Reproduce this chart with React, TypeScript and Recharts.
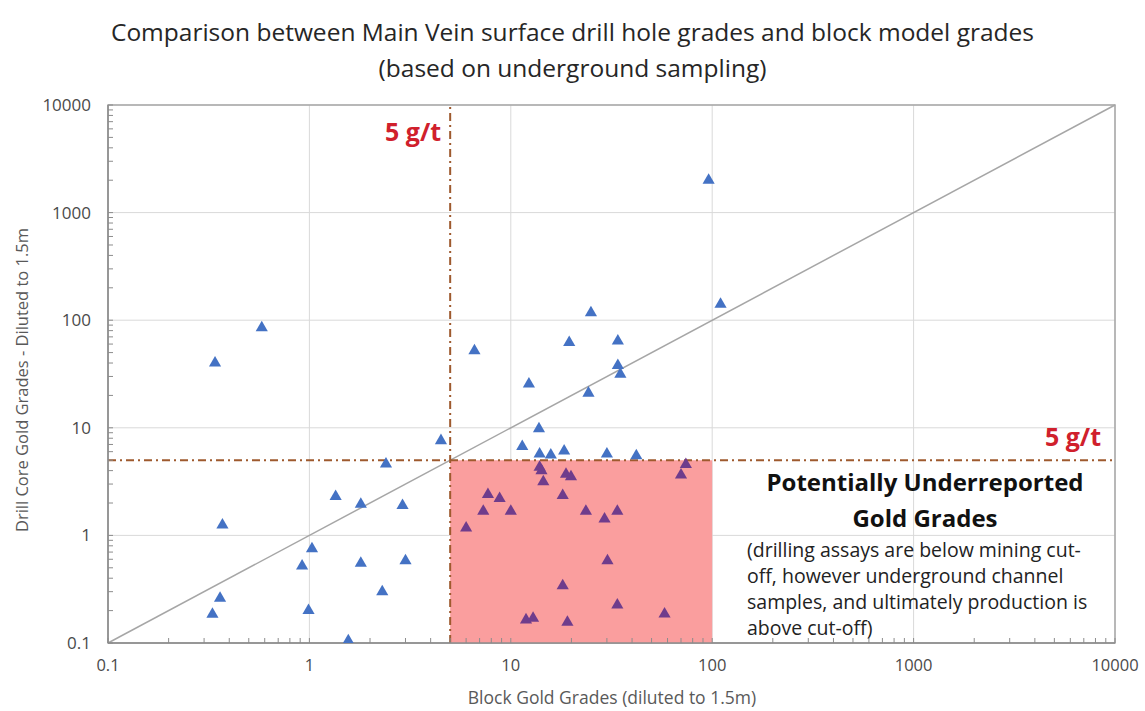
import {
  ScatterChart, Scatter, XAxis, YAxis, CartesianGrid, ReferenceLine, ReferenceArea,
} from 'recharts';

// block model grade (x) vs drill core grade (y), g/t
const BLOCK_BLUE = [0.58, 0.34, 6.6, 4.5, 2.4, 1.35, 1.8, 2.9, 0.37, 1.03, 0.92, 1.8, 3.0, 2.3, 0.36, 0.33, 0.99, 1.56,
  25, 19.5, 34, 34, 35, 12.3, 24.3, 13.8, 11.4, 13.9, 15.8, 18.4, 30, 42, 110, 96];
const CORE_BLUE = [85, 40, 52, 7.6, 4.6, 2.3, 1.95, 1.9, 1.25, 0.75, 0.52, 0.55, 0.58, 0.3, 0.26, 0.185, 0.2, 0.105,
  117, 62, 64, 38, 31.5, 25.5, 21, 9.8, 6.7, 5.7, 5.6, 6.1, 5.7, 5.5, 141, 2000];

// points falling inside the "underreported" box
const BLOCK_BOX = [13.9, 14.2, 14.5, 18.8, 19.9, 74, 70, 7.7, 8.8, 7.3, 10, 18.1, 23.6, 29.2, 33.8, 6.0, 30.2, 18.1,
  33.8, 58, 11.9, 12.9, 19.1];
const CORE_BOX = [4.3, 4.0, 3.15, 3.7, 3.5, 4.55, 3.65, 2.4, 2.2, 1.68, 1.68, 2.35, 1.68, 1.42, 1.68, 1.17, 0.58, 0.34,
  0.225, 0.186, 0.164, 0.17, 0.156];

const DECADES = [0.1, 1, 10, 100, 1000, 10000];
const MINOR_STEPS = [2, 3, 4, 5, 6, 7, 8, 9];
const CUT_OFF = 5;
const BOX_MAX_X = 100;

const ALL_TICKS = [
  ...DECADES,
  ...DECADES.slice(0, -1).flatMap(d => MINOR_STEPS.map(m => d * m)),
].sort((a, b) => a - b);

const FONT = "'Open Sans', 'Liberation Sans', sans-serif";
const BLUE = '#4472C4';
const PURPLE = '#6F3C8C';
const PINK = '#FA9E9E';
const BROWN = '#9E5A2E';
const RED = '#D0202C';
const AXIS_GREY = '#8c8c8c';
const LABEL_GREY = '#595959';

const blueData = BLOCK_BLUE.map((x, i) => ({ x, y: CORE_BLUE[i] }));
const boxData = BLOCK_BOX.map((x, i) => ({ x, y: CORE_BOX[i] }));

const isMajor = (v: number) => DECADES.includes(v);

const XTick = ({ x, y, payload }: any) => (
  <g>
    <line x1={x} y1={y} x2={x} y2={y - 5} stroke={AXIS_GREY} />
    {isMajor(payload.value) && (
      <text x={x} y={y + 28} textAnchor="middle" fill="#4a4a4a" fontSize={16.5} fontFamily={FONT}>
        {String(payload.value)}
      </text>
    )}
  </g>
);

const YTick = ({ x, y, payload }: any) => (
  <g>
    <line x1={x} y1={y} x2={x + 5} y2={y} stroke={AXIS_GREY} />
    {isMajor(payload.value) && (
      <text x={x - 17} y={y + 6} textAnchor="end" fill="#4a4a4a" fontSize={17} fontFamily={FONT}>
        {String(payload.value)}
      </text>
    )}
  </g>
);

const cutLabelV = ({ viewBox }: any) => (
  <text x={viewBox.x - 9} y={viewBox.y + 36} textAnchor="end" fill={RED} fontSize={25} fontWeight={700} fontFamily={FONT}>
    5 g/t
  </text>
);

const cutLabelH = ({ viewBox }: any) => (
  <text x={viewBox.x + viewBox.width - 14} y={viewBox.y - 14} textAnchor="end" fill={RED} fontSize={25} fontWeight={700} fontFamily={FONT}>
    5 g/t
  </text>
);

const App = () => (
  <div style={{ position: 'absolute', left: 0, top: 0, width: 1145, height: 711, background: '#fff', fontFamily: FONT }}>
    <div style={{ position: 'absolute', left: 0, top: 14, width: 1145, textAlign: 'center', fontSize: 24.5, lineHeight: '36px', color: '#262626' }}>
      Comparison between Main Vein surface drill hole grades and block model grades
      <br />
      (based on underground sampling)
    </div>

    <ScatterChart width={1145} height={711} margin={{ top: 105, right: 30, bottom: 0, left: 0 }}>
      <CartesianGrid horizontalValues={DECADES} verticalValues={DECADES} stroke="#d9d9d9" />
      <XAxis
        type="number"
        dataKey="x"
        scale="log"
        domain={[0.1, 10000]}
        ticks={ALL_TICKS}
        interval={0}
        tick={<XTick />}
        tickLine={false}
        tickSize={0}
        tickMargin={0}
        axisLine={{ stroke: AXIS_GREY, strokeWidth: 1.5 }}
        height={68}
        allowDataOverflow
      />
      <YAxis
        type="number"
        dataKey="y"
        scale="log"
        domain={[0.1, 10000]}
        ticks={ALL_TICKS}
        interval={0}
        tick={<YTick />}
        tickLine={false}
        tickSize={0}
        tickMargin={0}
        axisLine={{ stroke: AXIS_GREY, strokeWidth: 1.5 }}
        width={108}
        allowDataOverflow
      />
      <ReferenceArea x1={0.1} x2={10000} y1={0.1} y2={10000} fill="none" stroke="#a6a6a6" strokeWidth={1.5} />
      <ReferenceArea x1={CUT_OFF} x2={BOX_MAX_X} y1={0.1} y2={CUT_OFF} fill={PINK} fillOpacity={1} stroke="none" />
      <ReferenceLine
        segment={[{ x: 0.1, y: 0.1 }, { x: 10000, y: 10000 }]}
        stroke="#a6a6a6"
        strokeWidth={1.5}
      />
      <ReferenceLine x={CUT_OFF} stroke={BROWN} strokeWidth={2} strokeDasharray="8 4 2 4" label={cutLabelV} />
      <ReferenceLine y={CUT_OFF} stroke={BROWN} strokeWidth={2} strokeDasharray="8 4 2 4" label={cutLabelH} />
      <Scatter data={blueData} fill={BLUE} shape="triangle" isAnimationActive={false} />
      <Scatter data={boxData} fill={PURPLE} shape="triangle" isAnimationActive={false} />
    </ScatterChart>

    <div style={{ position: 'absolute', left: 725, top: 464, width: 400, textAlign: 'center', fontSize: 24, fontWeight: 700, lineHeight: '36px', color: '#111' }}>
      Potentially Underreported
      <br />
      Gold Grades
    </div>
    <div style={{ position: 'absolute', left: 747, top: 537, fontSize: 19.5, lineHeight: '26px', color: '#222', whiteSpace: 'nowrap' }}>
      (drilling assays are below mining cut-
      <br />
      off, however underground channel
      <br />
      samples, and ultimately production is
      <br />
      above cut-off)
    </div>

    <div style={{ position: 'absolute', left: 412, top: 685, width: 400, textAlign: 'center', fontSize: 17.5, lineHeight: '24px', color: LABEL_GREY }}>
      Block Gold Grades (diluted to 1.5m)
    </div>
    <div
      style={{
        position: 'absolute', left: 22 - 200, top: 380 - 12, width: 400, height: 24, textAlign: 'center',
        fontSize: 16.5, lineHeight: '24px', color: LABEL_GREY, transform: 'rotate(-90deg)', transformOrigin: 'center',
      }}
    >
      Drill Core Gold Grades - Diluted to 1.5m
    </div>
  </div>
);

export default App;
